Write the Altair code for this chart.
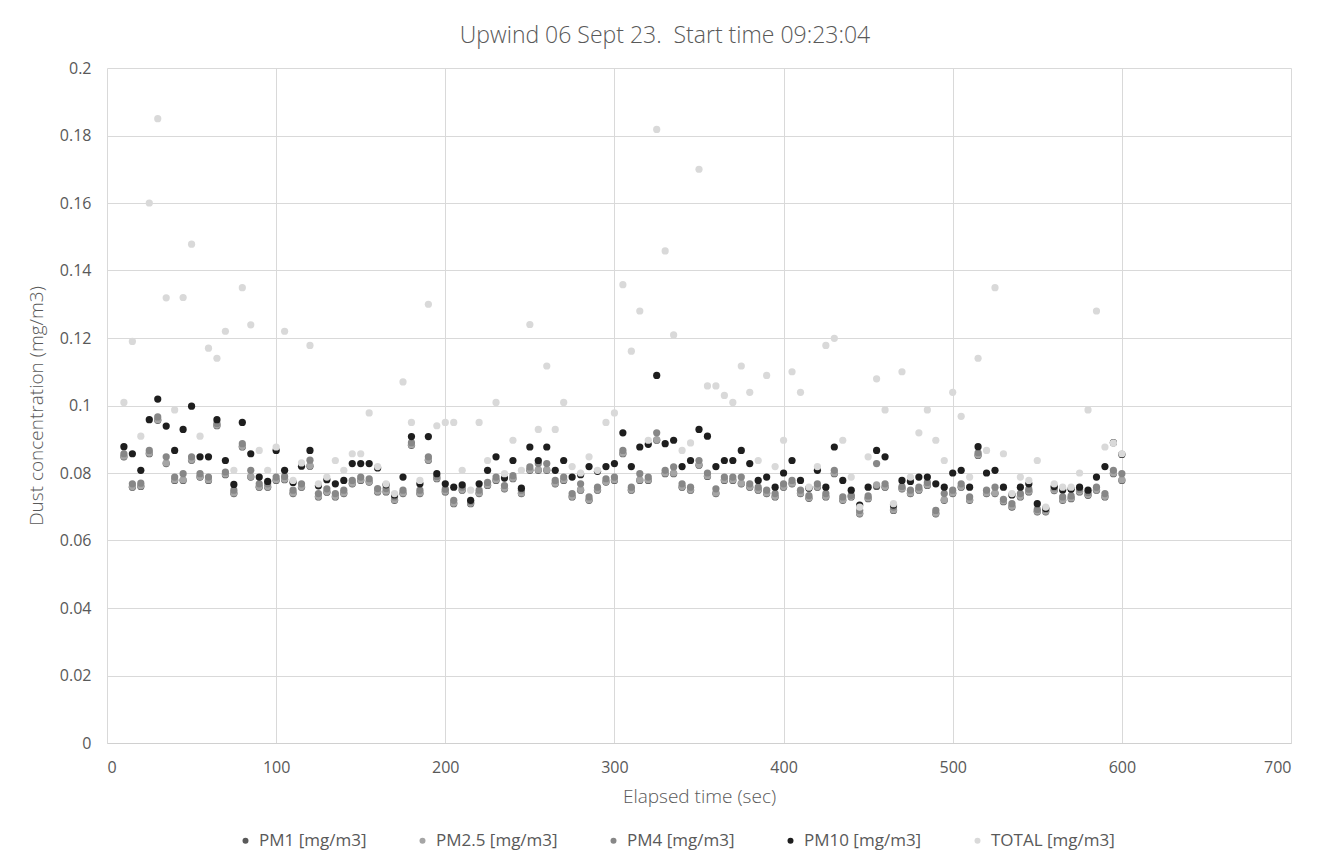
import altair as alt
import pandas as pd

times = [10, 15, 20, 25, 30, 35, 40, 45, 50, 55, 60, 65, 70, 75, 80, 85, 90, 95, 100,
         105, 110, 115, 120, 125, 130, 135, 140, 145, 150, 155, 160, 165, 170, 175, 180,
         185, 190, 195, 200, 205, 210, 215, 220, 225, 230, 235, 240, 245, 250, 255, 260,
         265, 270, 275, 280, 285, 290, 295, 300, 305, 310, 315, 320, 325, 330, 335, 340,
         345, 350, 355, 360, 365, 370, 375, 380, 385, 390, 395, 400, 405, 410, 415, 420,
         425, 430, 435, 440, 445, 450, 455, 460, 465, 470, 475, 480, 485, 490, 495, 500,
         505, 510, 515, 520, 525, 530, 535, 540, 545, 550, 555, 560, 565, 570, 575, 580,
         585, 590, 595, 600]

pm1 = [0.0848, 0.0758, 0.0760, 0.0857, 0.0956, 0.0828, 0.0778, 0.0778, 0.0838, 0.0788,
       0.0778, 0.0940, 0.0795, 0.0739, 0.0877, 0.0788, 0.0758, 0.0758, 0.0778, 0.0780,
       0.0739, 0.0758, 0.0820, 0.0729, 0.0743, 0.0729, 0.0739, 0.0768, 0.0778, 0.0773,
       0.0744, 0.0744, 0.0719, 0.0739, 0.0882, 0.0739, 0.0838, 0.0783, 0.0744, 0.0709,
       0.0749, 0.0709, 0.0739, 0.0763, 0.0778, 0.0753, 0.0783, 0.0739, 0.0808, 0.0808,
       0.0808, 0.0768, 0.0778, 0.0729, 0.0749, 0.0719, 0.0749, 0.0773, 0.0778, 0.0857,
       0.0749, 0.0778, 0.0778, 0.0897, 0.0798, 0.0798, 0.0758, 0.0749, 0.0823, 0.0790,
       0.0739, 0.0778, 0.0778, 0.0768, 0.0758, 0.0749, 0.0739, 0.0729, 0.0758, 0.0768,
       0.0739, 0.0725, 0.0758, 0.0729, 0.0798, 0.0719, 0.0729, 0.0679, 0.0724, 0.0760,
       0.0758, 0.0689, 0.0753, 0.0739, 0.0749, 0.0763, 0.0679, 0.0719, 0.0739, 0.0758,
       0.0719, 0.0852, 0.0739, 0.0739, 0.0715, 0.0699, 0.0729, 0.0744, 0.0685, 0.0685,
       0.0748, 0.0719, 0.0724, 0.0744, 0.0734, 0.0749, 0.0729, 0.0798, 0.0778]

pm25 = [0.0850, 0.0760, 0.0762, 0.0859, 0.0958, 0.0830, 0.0780, 0.0780, 0.0840, 0.0790,
        0.0780, 0.0942, 0.0797, 0.0741, 0.0879, 0.0790, 0.0760, 0.0760, 0.0780, 0.0782,
        0.0741, 0.0760, 0.0822, 0.0731, 0.0745, 0.0731, 0.0741, 0.0770, 0.0780, 0.0775,
        0.0746, 0.0746, 0.0721, 0.0741, 0.0884, 0.0741, 0.0840, 0.0785, 0.0746, 0.0711,
        0.0751, 0.0711, 0.0741, 0.0765, 0.0780, 0.0755, 0.0785, 0.0741, 0.0810, 0.0810,
        0.0810, 0.0770, 0.0780, 0.0731, 0.0751, 0.0721, 0.0751, 0.0775, 0.0780, 0.0859,
        0.0751, 0.0780, 0.0780, 0.0899, 0.0800, 0.0800, 0.0760, 0.0751, 0.0825, 0.0792,
        0.0741, 0.0780, 0.0780, 0.0770, 0.0760, 0.0751, 0.0741, 0.0731, 0.0760, 0.0770,
        0.0741, 0.0727, 0.0760, 0.0731, 0.0800, 0.0721, 0.0731, 0.0681, 0.0726, 0.0765,
        0.0760, 0.0691, 0.0755, 0.0741, 0.0751, 0.0765, 0.0681, 0.0721, 0.0741, 0.0760,
        0.0721, 0.0854, 0.0741, 0.0741, 0.0717, 0.0701, 0.0731, 0.0746, 0.0687, 0.0687,
        0.0750, 0.0721, 0.0726, 0.0746, 0.0736, 0.0751, 0.0731, 0.0800, 0.0780]

pm4 = [0.0857, 0.0768, 0.0770, 0.0867, 0.0966, 0.0848, 0.0788, 0.0798, 0.0848, 0.0798,
       0.0788, 0.0947, 0.0803, 0.0749, 0.0887, 0.0808, 0.0768, 0.0768, 0.0788, 0.0790,
       0.0749, 0.0768, 0.0838, 0.0739, 0.0753, 0.0739, 0.0749, 0.0778, 0.0788, 0.0783,
       0.0754, 0.0754, 0.0729, 0.0749, 0.0890, 0.0749, 0.0848, 0.0790, 0.0752, 0.0719,
       0.0758, 0.0715, 0.0749, 0.0772, 0.0788, 0.0763, 0.0792, 0.0749, 0.0818, 0.0828,
       0.0828, 0.0778, 0.0788, 0.0739, 0.0768, 0.0729, 0.0758, 0.0783, 0.0788, 0.0867,
       0.0758, 0.0798, 0.0788, 0.0919, 0.0808, 0.0818, 0.0768, 0.0758, 0.0837, 0.0800,
       0.0753, 0.0788, 0.0788, 0.0788, 0.0768, 0.0758, 0.0749, 0.0739, 0.0768, 0.0778,
       0.0749, 0.0733, 0.0768, 0.0739, 0.0808, 0.0729, 0.0734, 0.0689, 0.0732, 0.0828,
       0.0768, 0.0699, 0.0760, 0.0749, 0.0758, 0.0772, 0.0689, 0.0739, 0.0749, 0.0768,
       0.0729, 0.0860, 0.0749, 0.0758, 0.0722, 0.0709, 0.0739, 0.0752, 0.0692, 0.0692,
       0.0756, 0.0729, 0.0732, 0.0752, 0.0742, 0.0758, 0.0739, 0.0808, 0.0798]

pm10 = [0.0878, 0.0857, 0.0808, 0.0958, 0.1019, 0.0939, 0.0867, 0.0929, 0.0998, 0.0848,
        0.0848, 0.0958, 0.0837, 0.0766, 0.0950, 0.0857, 0.0788, 0.0775, 0.0867, 0.0808,
        0.0772, 0.0820, 0.0867, 0.0762, 0.0780, 0.0768, 0.0778, 0.0828, 0.0828, 0.0828,
        0.0815, 0.0765, 0.0735, 0.0788, 0.0908, 0.0768, 0.0908, 0.0798, 0.0768, 0.0758,
        0.0765, 0.0719, 0.0768, 0.0808, 0.0848, 0.0785, 0.0837, 0.0755, 0.0877, 0.0837,
        0.0877, 0.0808, 0.0837, 0.0788, 0.0795, 0.0819, 0.0805, 0.0819, 0.0828, 0.0919,
        0.0819, 0.0877, 0.0885, 0.1089, 0.0887, 0.0897, 0.0819, 0.0837, 0.0929, 0.0909,
        0.0819, 0.0837, 0.0837, 0.0867, 0.0828, 0.0778, 0.0788, 0.0758, 0.0800, 0.0837,
        0.0778, 0.0755, 0.0808, 0.0758, 0.0877, 0.0778, 0.0749, 0.0705, 0.0758, 0.0867,
        0.0848, 0.0705, 0.0778, 0.0775, 0.0788, 0.0788, 0.0768, 0.0758, 0.0800, 0.0808,
        0.0758, 0.0878, 0.0800, 0.0808, 0.0758, 0.0735, 0.0758, 0.0768, 0.0709, 0.0695,
        0.0760, 0.0750, 0.0752, 0.0758, 0.0749, 0.0788, 0.0819, 0.0890, 0.0855]

total = [0.1009, 0.1190, 0.0909, 0.1600, 0.1850, 0.1319, 0.0987, 0.1320, 0.1478, 0.0909,
         0.1170, 0.1140, 0.1220, 0.0808, 0.1349, 0.1239, 0.0867, 0.0808, 0.0877, 0.1220,
         0.0778, 0.0830, 0.1178, 0.0768, 0.0788, 0.0837, 0.0808, 0.0857, 0.0857, 0.0978,
         0.0819, 0.0768, 0.0739, 0.1070, 0.0950, 0.0778, 0.1300, 0.0940, 0.0950, 0.0950,
         0.0808, 0.0749, 0.0950, 0.0837, 0.1009, 0.0798, 0.0897, 0.0808, 0.1240, 0.0929,
         0.1117, 0.0929, 0.1009, 0.0819, 0.0800, 0.0848, 0.0808, 0.0950, 0.0978, 0.1358,
         0.1161, 0.1280, 0.0897, 0.1818, 0.1458, 0.1209, 0.0867, 0.0889, 0.1700, 0.1058,
         0.1058, 0.1030, 0.1009, 0.1117, 0.1039, 0.0837, 0.1089, 0.0819, 0.0897, 0.1100,
         0.1039, 0.0758, 0.0819, 0.1178, 0.1199, 0.0897, 0.0788, 0.0699, 0.0848, 0.1079,
         0.0987, 0.0709, 0.1100, 0.0788, 0.0919, 0.0987, 0.0897, 0.0837, 0.1039, 0.0968,
         0.0788, 0.1140, 0.0867, 0.1349, 0.0857, 0.0739, 0.0788, 0.0778, 0.0837, 0.0699,
         0.0768, 0.0758, 0.0758, 0.0800, 0.0987, 0.1280, 0.0877, 0.0889, 0.0857]

series_names = ["PM1 [mg/m3]", "PM2.5 [mg/m3]", "PM4 [mg/m3]", "PM10 [mg/m3]", "TOTAL [mg/m3]"]
series_colors = ["#595959", "#a5a5a5", "#878787", "#1e1e1e", "#d9d9d9"]

x_ticks = [0, 100, 200, 300, 400, 500, 600, 700]
y_ticks = [0, 0.02, 0.04, 0.06, 0.08, 0.1, 0.12, 0.14, 0.16, 0.18, 0.2]

rows = []
for k, (name, vals) in enumerate(zip(series_names, [pm1, pm25, pm4, pm10, total])):
    for t, v in zip(times, vals):
        rows.append({"t": t, "v": v, "series": name, "k": k})
df = pd.DataFrame(rows)

FONT = "Open Sans"
TXT = "#595959"

chart = alt.Chart(df).mark_circle(size=52, opacity=1).encode(
    x=alt.X("t:Q", scale=alt.Scale(domain=[0, 700], nice=False),
            axis=alt.Axis(values=x_ticks, title="Elapsed time (sec)", format="d",
                          labelPadding=16, titlePadding=12, domain=True,
                          domainColor="#d0d0d0")),
    y=alt.Y("v:Q", scale=alt.Scale(domain=[0, 0.2], nice=False),
            axis=alt.Axis(values=y_ticks, title="Dust concentration (mg/m3)", format="~g",
                          labelPadding=16, titlePadding=13, domain=False)),
    color=alt.Color("series:N", sort=series_names,
                    scale=alt.Scale(domain=series_names, range=series_colors),
                    legend=alt.Legend(orient="none", direction="horizontal", title=None,
                                      legendX=130, legendY=764, symbolType="circle",
                                      symbolSize=36, symbolStrokeWidth=0, labelOffset=5,
                                      columnPadding=47, labelFontSize=17, labelColor=TXT,
                                      labelFont=FONT)),
    order=alt.Order("k:Q"),
).properties(
    width=1184, height=675,
    title=alt.Title("Upwind 06 Sept 23.\u00a0 Start time 09:23:04", fontSize=23, font=FONT,
                    fontWeight=300, color=TXT, anchor="middle", dx=-34, offset=12),
    autosize=alt.AutoSizeParams(type="none"),
    padding={"left": 99, "top": 60, "right": 31, "bottom": 114},
).configure_axis(
    labelFont=FONT, labelFontSize=16, labelColor=TXT, titleFont=FONT, titleFontSize=19,
    titleFontWeight=300, titleColor=TXT, gridColor="#d9d9d9", ticks=False,
).configure_view(stroke=None)

chart.save("out.html", embed_options={"renderer": "svg", "actions": False})
